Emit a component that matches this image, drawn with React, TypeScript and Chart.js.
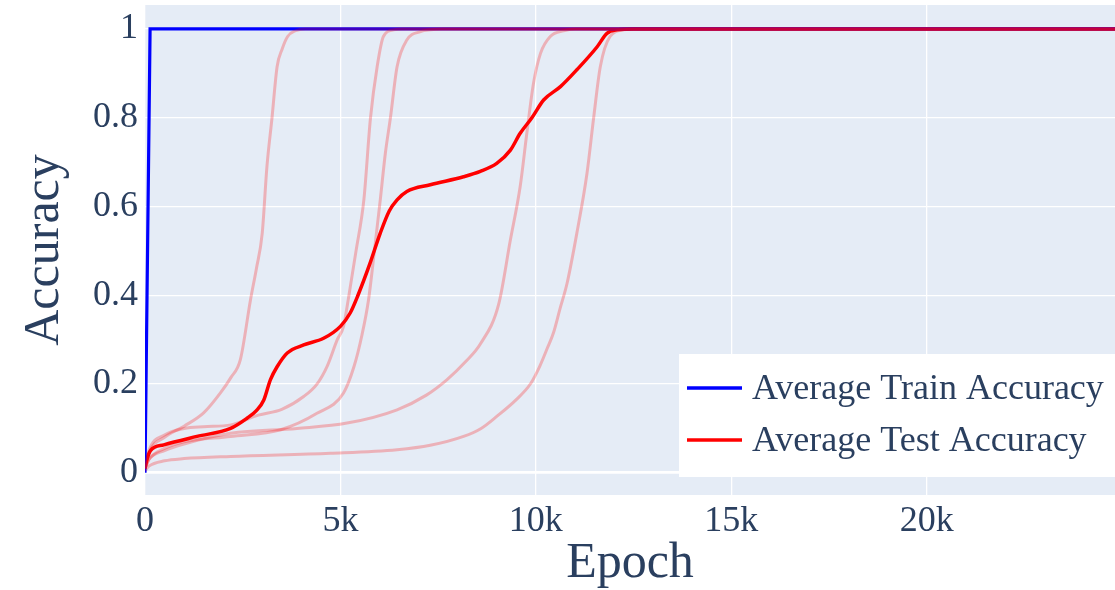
import React, { useEffect, useRef } from 'react';
import { Chart, registerables } from 'chart.js';

Chart.register(...registerables);

// ---- Data (epochs, accuracy) ----
const trainEpochs = [0, 130, 24820];
const trainAcc = [0, 1, 1];

const runAEpochs = [0, 100, 500, 1000, 1500, 1930, 2200, 2440, 2700, 2850, 3000, 3120, 3250, 3380, 3510, 3650, 3850, 4100, 24820];
const runAAcc = [0.01, 0.045, 0.08, 0.105, 0.135, 0.18, 0.215, 0.255, 0.39, 0.46, 0.54, 0.69, 0.8, 0.915, 0.955, 0.983, 0.996, 1, 1];

const runBEpochs = [0, 100, 500, 1000, 1500, 2200, 2900, 3500, 4060, 4400, 4660, 4920, 5080, 5200, 5400, 5600, 5770, 5940, 6100, 6360, 6600, 24820];
const runBAcc = [0.01, 0.05, 0.085, 0.1, 0.104, 0.108, 0.13, 0.143, 0.172, 0.2, 0.24, 0.3, 0.33, 0.39, 0.5, 0.615, 0.8, 0.915, 0.983, 0.998, 1, 1];

const runCEpochs = [0, 100, 500, 1000, 2190, 3470, 4400, 5080, 5350, 5550, 5720, 5870, 6020, 6150, 6280, 6450, 6700, 7050, 7300, 7600, 24820];
const runCAcc = [0.01, 0.03, 0.055, 0.07, 0.082, 0.097, 0.134, 0.18, 0.24, 0.31, 0.39, 0.5, 0.615, 0.72, 0.8, 0.915, 0.975, 0.994, 0.998, 1, 1];

const runDEpochs = [0, 100, 500, 1000, 2190, 3890, 5170, 6450, 7200, 7730, 8200, 8580, 9050, 9350, 9600, 9770, 9940, 10120, 10370, 10710, 11000, 24820];
const runDAcc = [0.01, 0.03, 0.05, 0.065, 0.089, 0.1, 0.112, 0.142, 0.175, 0.21, 0.25, 0.29, 0.38, 0.525, 0.645, 0.765, 0.877, 0.945, 0.983, 0.996, 1, 1];

const runEEpochs = [0, 100, 500, 1000, 2190, 4740, 6450, 7300, 8150, 8600, 9000, 9500, 9860, 10100, 10290, 10450, 10620, 10800, 11050, 11310, 11480, 11650, 11900, 12250, 12600, 24820];
const runEAcc = [0.005, 0.015, 0.027, 0.032, 0.037, 0.044, 0.052, 0.062, 0.082, 0.1, 0.127, 0.165, 0.2, 0.24, 0.28, 0.315, 0.37, 0.427, 0.54, 0.675, 0.8, 0.915, 0.983, 0.998, 1, 1];

const testEpochs = [0, 50, 140, 480, 1330, 2190, 2610, 2850, 3040, 3210, 3380, 3640, 4060, 4570, 5000, 5250, 5450, 5750, 6020, 6250, 6450, 6700, 7300, 8150, 8580, 9000, 9350, 9600, 9900, 10200, 10630, 11050, 11570, 11820, 12080, 12500, 24820];
const testAcc = [0.01, 0.03, 0.05, 0.063, 0.082, 0.1, 0.123, 0.14, 0.164, 0.21, 0.239, 0.27, 0.288, 0.303, 0.33, 0.36, 0.4, 0.47, 0.54, 0.59, 0.615, 0.634, 0.649, 0.667, 0.679, 0.697, 0.727, 0.765, 0.8, 0.84, 0.87, 0.908, 0.96, 0.99, 0.998, 1, 1];

const xTickValues = [0, 5000, 10000, 15000, 20000];
const xTickLabels = ['0', '5k', '10k', '15k', '20k'];
const yTickValues = [0, 0.2, 0.4, 0.6, 0.8, 1];
const yTickLabels = ['0', '0.2', '0.4', '0.6', '0.8', '1'];

const legendNames = ['Average Train Accuracy', 'Average Test Accuracy'];

const FONT = '"Liberation Serif", "Times New Roman", serif';
const TEXT = '#2a3f5f';
const BLUE = '#0000ff';
const RED = '#ff0000';
const PINK = 'rgba(255,0,0,0.25)';

const pts = (xs: number[], ys: number[]) => xs.map((x, i) => ({ x, y: ys[i] }));

const bgPlugin = {
  id: 'plotBg',
  beforeDraw(chart: any) {
    const { ctx, chartArea: a } = chart;
    ctx.save();
    ctx.fillStyle = '#E5ECF6';
    ctx.fillRect(a.left, a.top, a.right - a.left, a.bottom - a.top);
    ctx.restore();
  },
};

const legendPlugin = {
  id: 'boxLegend',
  afterDraw(chart: any) {
    const { ctx, chartArea: a } = chart;
    const boxLeft = 679;
    const boxTop = 354;
    const boxBottom = a.bottom - 18;
    ctx.save();
    ctx.fillStyle = '#ffffff';
    ctx.fillRect(boxLeft, boxTop, a.right - boxLeft, boxBottom - boxTop);
    const colors = [BLUE, RED];
    const rows = [388, 440];
    ctx.font = `36px ${FONT}`;
    ctx.textBaseline = 'middle';
    ctx.textAlign = 'left';
    legendNames.forEach((name, i) => {
      ctx.strokeStyle = colors[i];
      ctx.lineWidth = 3.5;
      ctx.beginPath();
      ctx.moveTo(687, rows[i]);
      ctx.lineTo(742, rows[i]);
      ctx.stroke();
      ctx.fillStyle = TEXT;
      ctx.fillText(name, 752, rows[i] + 2);
    });
    ctx.restore();
  },
};

export default function App() {
  const ref = useRef<HTMLCanvasElement>(null);
  useEffect(() => {
    if (!ref.current) return;
    const runStyle = {
      borderColor: PINK,
      borderWidth: 3,
      pointRadius: 0,
      fill: false,
      cubicInterpolationMode: 'monotone' as const,
      clip: 0,
      order: 0,
    };
    const chart = new Chart(ref.current, {
      type: 'line',
      data: {
        datasets: [
          { ...runStyle, label: 'Run 1', data: pts(runAEpochs, runAAcc) },
          { ...runStyle, label: 'Run 2', data: pts(runBEpochs, runBAcc) },
          { ...runStyle, label: 'Run 3', data: pts(runCEpochs, runCAcc) },
          { ...runStyle, label: 'Run 4', data: pts(runDEpochs, runDAcc) },
          { ...runStyle, label: 'Run 5', data: pts(runEEpochs, runEAcc) },
          {
            label: legendNames[0],
            data: pts(trainEpochs, trainAcc),
            borderColor: BLUE,
            borderWidth: 3.2,
            pointRadius: 0,
            tension: 0,
            clip: 0,
            order: 1,
          },
          {
            label: legendNames[1],
            data: pts(testEpochs, testAcc),
            borderColor: RED,
            borderWidth: 3.5,
            pointRadius: 0,
            cubicInterpolationMode: 'monotone',
            clip: 0,
            order: 2,
          },
        ] as any,
      },
      options: {
        responsive: true,
        maintainAspectRatio: false,
        animation: false,
        devicePixelRatio: 1,
        layout: { padding: { top: 5, right: 0, left: 0, bottom: 0 } },
        plugins: { legend: { display: false }, tooltip: { enabled: false } },
        scales: {
          x: {
            type: 'linear',
            min: 0,
            max: 24820,
            afterBuildTicks: (s: any) => {
              s.ticks = xTickValues.map((v) => ({ value: v }));
            },
            afterFit: (s: any) => {
              s.height = 95;
              s.paddingLeft = 0;
              s.paddingRight = 0;
            },
            ticks: {
              padding: 5,
              color: TEXT,
              font: { family: FONT, size: 36 },
              maxRotation: 0,
              autoSkip: false,
              callback: (_v: any, i: number) => xTickLabels[i],
            },
            grid: { color: '#ffffff', lineWidth: 1.3, drawTicks: false },
            border: { display: false },
            title: {
              display: true,
              text: 'Epoch',
              color: TEXT,
              font: { family: FONT, size: 50, lineHeight: 1 },
              padding: { top: 0, bottom: 1.5 },
            },
          },
          y: {
            type: 'linear',
            min: -0.05,
            max: 1.054,
            afterBuildTicks: (s: any) => {
              s.ticks = yTickValues.map((v) => ({ value: v }));
            },
            afterFit: (s: any) => {
              s.width = 145;
              s.paddingTop = 0;
              s.paddingBottom = 0;
            },
            ticks: {
              padding: 7,
              color: TEXT,
              font: { family: FONT, size: 36 },
              autoSkip: false,
              callback: (_v: any, i: number) => yTickLabels[i],
            },
            grid: {
              color: '#ffffff',
              lineWidth: (c: any) => (c.tick && c.tick.value === 0 ? 2.7 : 1.3),
              drawTicks: false,
            },
            border: { display: false },
            title: {
              display: true,
              text: 'Accuracy',
              color: TEXT,
              font: { family: FONT, size: 50, lineHeight: 1.2 },
              padding: { top: 15, bottom: 0 },
            },
          },
        },
      } as any,
      plugins: [bgPlugin, legendPlugin],
    });
    return () => chart.destroy();
  }, []);
  return (
    <div style={{ position: 'absolute', left: 0, top: 0, width: 1115, height: 590, background: '#fff' }}>
      <canvas ref={ref} />
    </div>
  );
}
